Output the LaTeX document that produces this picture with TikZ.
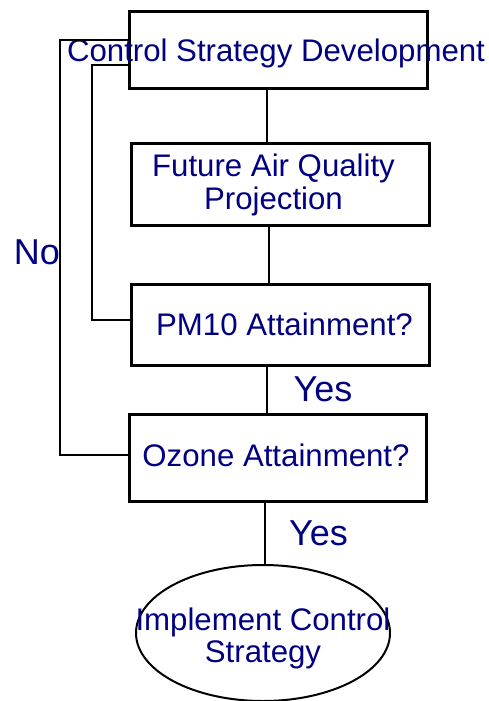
\documentclass[tikz,border=0pt]{standalone}
\usepackage{fontspec}
\setmainfont{Liberation Sans}
\usetikzlibrary{shapes.geometric}
\definecolor{txtblue}{RGB}{0,0,128}
\tikzset{
  box/.style={draw=black, line width=3pt, rectangle, inner sep=0pt},
  oval/.style={draw=black, line width=2pt, ellipse, inner sep=0pt},
  conn/.style={draw=black, line width=2pt},
  boxtext/.style={text=txtblue, inner sep=0pt, align=center,
    font=\fontsize{31.2}{33.3}\selectfont},
  lbl/.style={text=txtblue, inner sep=0pt, font=\fontsize{36}{40}\selectfont}
}
\begin{document}
\begin{tikzpicture}[x=1pt, y=-1pt]
\useasboundingbox (0,0) rectangle (489,701);
% boxes
\node[box, minimum width=297.5pt, minimum height=76.5pt] (b1) at (278.25,49.75) {};
\node[box, minimum width=298pt, minimum height=82pt] (b2) at (280.5,184.5) {};
\node[box, minimum width=298pt, minimum height=81pt] (b3) at (280.5,325) {};
\node[box, minimum width=297pt, minimum height=87pt] (b4) at (278,458) {};
\node[oval, minimum width=254pt, minimum height=136pt] (e) at (263,633) {};
% texts (base anchor = baseline of the last line)
\node[boxtext, anchor=base] (t1) at (276,61.5) {Control Strategy Development};
\node[boxtext, anchor=base] (t2) at (273.5,209.3) {Future Air Quality\\Projection};
\node[boxtext, anchor=base] (t3) at (284.5,335) {PM10 Attainment?};
\node[boxtext, anchor=base] (t4) at (276,466) {Ozone Attainment?};
\node[boxtext, anchor=base, font=\fontsize{31.2}{31.5}\selectfont] (t5) at (263,662) {Implement Control\\Strategy};
\node[lbl, anchor=base] (yes1) at (323,401.7) {Yes};
\node[lbl, anchor=base] (yes2) at (318.5,545.7) {Yes};
\node[lbl, anchor=base] (no) at (37,264) {No};
% coordinates for loops
\coordinate (o1) at (60,40);
\coordinate (o2) at (60,455);
\coordinate (i1) at (92,65);
\coordinate (i2) at (92,320);
% vertical connectors
\draw[conn] (b1.south -| 267,0) -- (b2.north -| 267,0);
\draw[conn] (b2.south -| 269,0) -- (b3.north -| 269,0);
\draw[conn] (b3.south -| 267,0) -- (b4.north -| 267,0);
\draw[conn] (b4.south -| 265,0) -- (e.north -| 265,0);
% feedback loops
\draw[conn] (b1.west |- o1) -- (o1) -- (o2) -- (b4.west |- o2);
\draw[conn] (b1.west |- i1) -- (i1) -- (i2) -- (b3.west |- i2);
\end{tikzpicture}
\end{document}
